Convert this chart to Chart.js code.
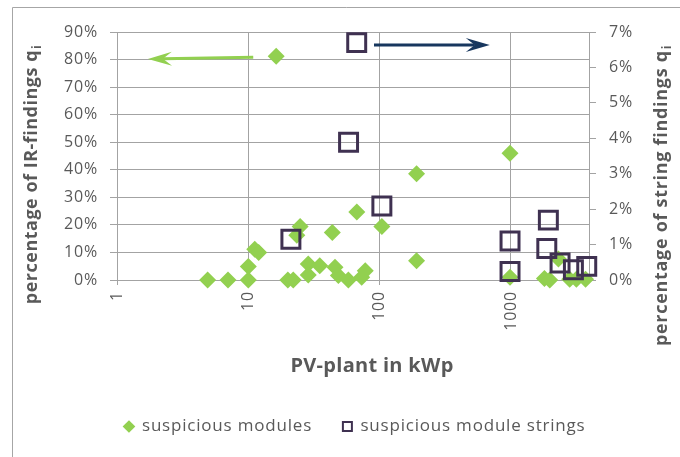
<!DOCTYPE html>
<html>
<head>
<meta charset="utf-8">
<script src="https://cdn.jsdelivr.net/npm/chart.js@4.4.1/dist/chart.umd.min.js"></script>
<style>
  html,body{margin:0;padding:0;background:#fff;}
  #wrap{position:relative;width:680px;height:457px;}
</style>
</head>
<body>
<div id="wrap"><canvas id="c" width="680" height="457"></canvas></div>
<script>
// ---- data ----
const moduleX = [4.9,7,10,10,11.2,12,16.3,20,22,23.4,24.8,28.6,28.6,35,43.6,45.7,48.5,57.8,67,73,77.7,104,191,191,984,984,1800,1975,2300,2800,3150,3700];
const moduleY = [0,0,0,4.9,11.2,10,81.2,0,0,16.2,19.4,5.8,1.8,5.2,17.2,4.6,1.6,0,24.7,1,3.4,19.4,38.6,7,46,1,0.5,0,7.6,0.3,0.3,0.3];
const stringX = [21.1,58,66.9,104,984,984,1875,1927,2366,2990,3777];
const stringY = [1.15,3.89,6.7,2.09,1.1,0.24,0.89,1.69,0.48,0.29,0.385];
const xTickValues = [1,10,100,1000];
const leftTicks = [0,10,20,30,40,50,60,70,80,90];
const rightTicks = [0,1,2,3,4,5,6,7];
const arrowGreenX = [10.9,1.72];
const arrowGreenY = [80.8,80.2];
const arrowBlueX = [90.6,690];
const arrowBlueY = [6.63,6.63];
const seriesNames = ['suspicious modules','suspicious module strings'];
const titleX = 'PV-plant in kWp';
const titleLeft = ['percentage of IR-findings q','i'];
const titleRight = ['percentage of string findings q','i'];

const GREEN = '#92D050';
const PURPLE = '#3F3151';
const BLUE = '#17375E';
const GRID = '#a3a3a3';
const TXT = '#595959';
const FONT = "'Open Sans', sans-serif";
const SPACING = '0.8px';
const LEGEND_GAP = '\u00A0\u00A0\u00A0\u00A0';

function drawArrow(ctx, x1, y1, x2, y2, color) {
  const ang = Math.atan2(y2 - y1, x2 - x1);
  const L = 24, W = 7, N = 15;
  const cos = Math.cos(ang), sin = Math.sin(ang);
  ctx.save();
  ctx.strokeStyle = color; ctx.fillStyle = color; ctx.lineWidth = 3;
  ctx.beginPath();
  ctx.moveTo(x1, y1);
  ctx.lineTo(x2 - cos * N, y2 - sin * N);
  ctx.stroke();
  ctx.beginPath();
  ctx.moveTo(x2, y2);
  ctx.lineTo(x2 - cos * L - sin * W, y2 - sin * L + cos * W);
  ctx.lineTo(x2 - cos * N, y2 - sin * N);
  ctx.lineTo(x2 - cos * L + sin * W, y2 - sin * L - cos * W);
  ctx.closePath();
  ctx.fill();
  ctx.restore();
}

function drawSubTitle(ctx, parts, cx, cy, rot, size, spacing) {
  ctx.save();
  ctx.translate(cx, cy);
  ctx.rotate(rot);
  ctx.letterSpacing = spacing;
  ctx.fillStyle = TXT;
  ctx.textBaseline = 'alphabetic';
  ctx.textAlign = 'left';
  ctx.font = 'bold ' + size + 'px ' + FONT;
  const w1 = ctx.measureText(parts[0]).width;
  let w2 = 0;
  const subSize = Math.round(size * 0.65);
  if (parts[1]) { ctx.font = 'bold ' + subSize + 'px ' + FONT; w2 = ctx.measureText(parts[1]).width; }
  const start = -(w1 + w2) / 2;
  ctx.font = 'bold ' + size + 'px ' + FONT;
  ctx.fillText(parts[0], start, 0);
  if (parts[1]) { ctx.font = 'bold ' + subSize + 'px ' + FONT; ctx.fillText(parts[1], start + w1 + 1, 4); }
  ctx.restore();
}

const overlay = {
  id: 'overlay',
  beforeLayout(chart) { chart.ctx.letterSpacing = SPACING; },
  beforeDraw(chart) {
    const ctx = chart.ctx;
    ctx.letterSpacing = SPACING;
    ctx.save();
    ctx.strokeStyle = '#a6a6a6'; ctx.lineWidth = 1;
    ctx.beginPath();
    ctx.moveTo(12.5, 457); ctx.lineTo(12.5, 7.5); ctx.lineTo(680, 7.5);
    ctx.stroke();
    ctx.restore();
  },
  afterDatasetsDraw(chart) {
    const ctx = chart.ctx, sx = chart.scales.x, yl = chart.scales.y, yr = chart.scales.y2;
    drawArrow(ctx, sx.getPixelForValue(arrowGreenX[0]), yl.getPixelForValue(arrowGreenY[0]),
                   sx.getPixelForValue(arrowGreenX[1]), yl.getPixelForValue(arrowGreenY[1]), GREEN);
    drawArrow(ctx, sx.getPixelForValue(arrowBlueX[0]), yr.getPixelForValue(arrowBlueY[0]),
                   sx.getPixelForValue(arrowBlueX[1]), yr.getPixelForValue(arrowBlueY[1]), BLUE);
  },
  afterDraw(chart) {
    const ctx = chart.ctx, a = chart.chartArea;
    drawSubTitle(ctx, [titleX], (a.left + a.right) / 2 + 19, 372, 0, 20, '0.3px');
    drawSubTitle(ctx, titleLeft, 37, 175, -Math.PI / 2, 18, '0.5px');
    drawSubTitle(ctx, titleRight, 667, 196, -Math.PI / 2, 18, '0.7px');
  }
};

const ctx = document.getElementById('c').getContext('2d');
new Chart(ctx, {
  type: 'scatter',
  data: {
    datasets: [
      {
        label: seriesNames[0],
        data: moduleX.map((x, i) => ({x: x, y: moduleY[i]})),
        yAxisID: 'y',
        pointStyle: 'rectRot',
        pointRadius: 8.5,
        pointBackgroundColor: GREEN,
        pointBorderColor: GREEN,
        pointBorderWidth: 0,
        backgroundColor: GREEN,
        borderColor: GREEN,
        clip: false,
        order: 1
      },
      {
        label: seriesNames[1],
        data: stringX.map((x, i) => ({x: x, y: stringY[i]})),
        yAxisID: 'y2',
        pointStyle: 'rect',
        pointRadius: 12.7,
        pointBackgroundColor: 'rgba(0,0,0,0)',
        pointBorderColor: PURPLE,
        pointBorderWidth: 3,
        backgroundColor: 'rgba(0,0,0,0)',
        borderColor: PURPLE,
        clip: false,
        order: 0
      }
    ]
  },
  options: {
    responsive: false,
    animation: false,
    events: [],
    layout: { padding: { left: 30, top: 32, right: 0, bottom: 12 } },
    plugins: {
      tooltip: { enabled: false },
      legend: {
        position: 'bottom',
        labels: {
          usePointStyle: true,
          boxWidth: 9, boxHeight: 9,
          padding: 10,
          color: TXT,
          font: { family: FONT, size: 17 },
          sort: (a, b) => a.datasetIndex - b.datasetIndex,
          generateLabels(chart) {
            const items = Chart.defaults.plugins.legend.labels.generateLabels(chart);
            items.forEach(it => {
              if (it.datasetIndex === 1) { it.lineWidth = 2; it.fillStyle = '#fff'; it.strokeStyle = PURPLE; }
              else { it.lineWidth = 0; it.fillStyle = GREEN; it.strokeStyle = GREEN; it.text = it.text + LEGEND_GAP; }
            });
            return items;
          }
        }
      }
    },
    scales: {
      x: {
        type: 'logarithmic',
        position: 'bottom',
        min: 1, max: 3930,
        afterBuildTicks(scale) { scale.ticks = xTickValues.map(v => ({value: v})); },
        afterFit(scale) { scale.height = 128; },
        ticks: {
          minRotation: 90, maxRotation: 90,
          autoSkip: false,
          padding: 6,
          color: TXT,
          font: { family: FONT, size: 16 },
          callback: (v) => String(v)
        },
        grid: { color: GRID, lineWidth: 1, tickLength: 5 },
        border: { color: GRID }
      },
      y: {
        position: 'left',
        min: 0, max: 90,
        afterBuildTicks(scale) { scale.ticks = leftTicks.map(v => ({value: v})); },
        afterFit(scale) { scale.width = 87; },
        ticks: {
          color: TXT, padding: 12,
          font: { family: FONT, size: 16 },
          callback: (v) => v + '%'
        },
        grid: { color: GRID, lineWidth: 1, tickLength: 7 },
        border: { color: GRID }
      },
      y2: {
        position: 'right',
        min: 0, max: 7,
        afterBuildTicks(scale) { scale.ticks = rightTicks.map(v => ({value: v})); },
        afterFit(scale) { scale.width = 91; },
        ticks: {
          color: TXT, padding: 13,
          font: { family: FONT, size: 16 },
          callback: (v) => v + '%'
        },
        grid: { drawOnChartArea: false, color: GRID, lineWidth: 1, tickLength: 7 },
        border: { color: GRID }
      }
    }
  },
  plugins: [overlay]
});
</script>
</body>
</html>
